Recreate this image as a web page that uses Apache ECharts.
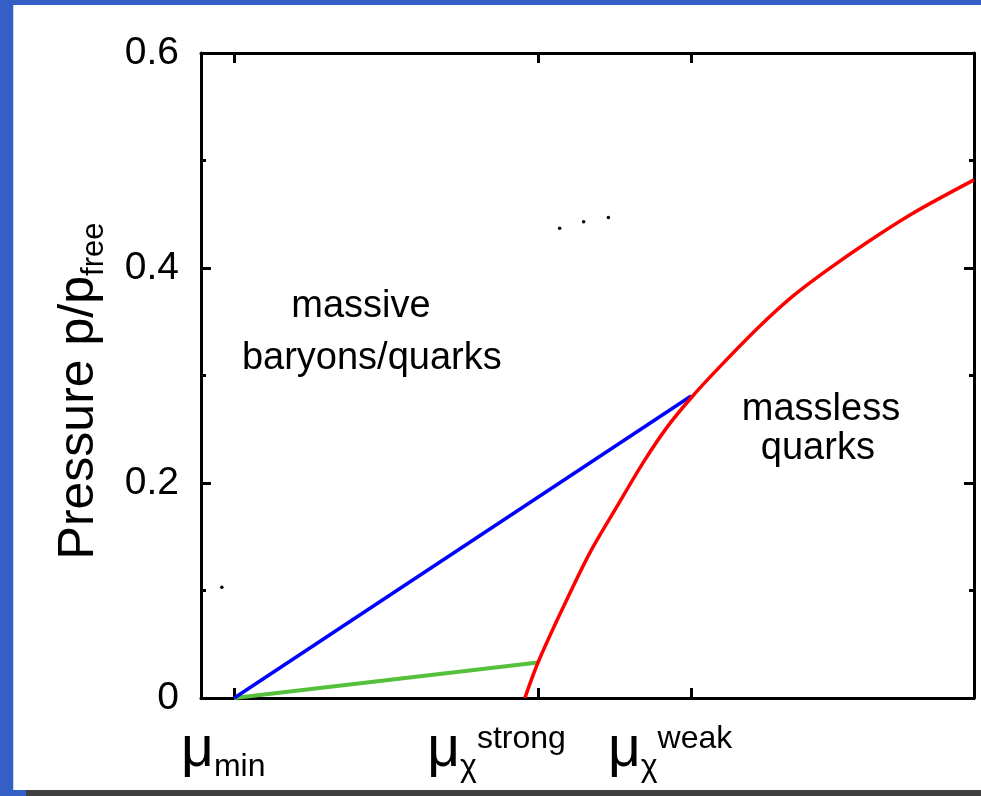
<!DOCTYPE html>
<html><head><meta charset="utf-8">
<script src="https://cdn.jsdelivr.net/npm/echarts@6/dist/echarts.min.js"></script>
<style>
html,body{margin:0;padding:0;width:981px;height:796px;overflow:hidden;background:#335fc6;}
#frame{position:absolute;left:14px;top:5px;width:967px;height:785px;background:#fff;box-shadow:-1px 0 0 #c9d6f2;}
#bar{position:absolute;left:26px;top:790px;width:955px;height:6px;background:#404040;}
#chart{position:absolute;left:0;top:0;width:967px;height:785px;}
</style></head><body>
<div id="frame"><div id="chart"></div></div><div id="bar"></div>
<script>
// ---- data ----
const xTickValues = [0.43, 4.36, 6.34];
const xTickSubs = ['min', 'χ', 'χ'];
const xTickSups = ['', 'strong', 'weak'];
const xMax = 10;
const yTickValues = [0, 0.2, 0.4, 0.6];
const yTitle = 'Pressure p/p';
const yTitleSub = 'free';

const redCurve = [
  [4.19, 0], [4.36, 0.033], [4.67, 0.082], [5.03, 0.135], [5.38, 0.178],
  [5.72, 0.219], [6.03, 0.252], [6.35, 0.280], [6.71, 0.308], [7.23, 0.346],
  [7.66, 0.374], [8.10, 0.398], [8.62, 0.424], [9.21, 0.451], [10.0, 0.482]
];
const blueLine = [[0.43, 0], [6.34, 0.281]];
const greenLine = [[0.43, 0], [4.36, 0.033]];
const dots = [[4.64, 0.437], [4.95, 0.443], [5.27, 0.447], [0.27, 0.103]];
const annoText = ['massive', 'baryons/quarks', 'massless', 'quarks'];
const annoX = [2.07, 2.21, 8.02, 7.98];
const annoY = [0.364, 0.316, 0.268, 0.232];

// ---- chart ----
const FONT = 'Liberation Sans, Arial, sans-serif';
const chart = echarts.init(document.getElementById('chart'), null, {renderer: 'canvas'});
const pads = ['p0', 'p1', 'p2'];

function xLabel(v) {
  let i = xTickValues.findIndex(t => Math.abs(t - v) < 1e-6);
  if (i < 0) return ' ';
  let s = '{mu|μ}{sub|' + xTickSubs[i] + '}';
  if (xTickSups[i]) s += '{sup|' + xTickSups[i] + '}';
  s += '{' + pads[i] + '|}';
  return s;
}

const axisLineStyle = {color: '#000', width: 3};
const tickStyle = {color: '#000', width: 3};

const option = {
  animation: false,
  textStyle: {fontFamily: FONT},
  grid: {left: 187, top: 48, width: 773, height: 645, containLabel: false},
  xAxis: [
    {
      type: 'value', min: 0, max: xMax, position: 'bottom',
      axisLine: {show: true, onZero: false, lineStyle: axisLineStyle},
      axisTick: {show: true, inside: true, length: 10, lineStyle: tickStyle, customValues: xTickValues},
      axisLabel: {
        show: true, customValues: xTickValues.concat([xMax]), margin: 22, color: '#000',
        hideOverlap: false,
        formatter: xLabel,
        rich: {
          mu: {fontSize: 57, fontFamily: FONT, color: '#000', lineHeight: 64, padding: [2, 0, 6, 0]},
          sub: {fontSize: 32, fontFamily: FONT, color: '#000', lineHeight: 64, padding: [30, 0, 0, 0]},
          sup: {fontSize: 32, fontFamily: FONT, color: '#000', lineHeight: 64, padding: [0, 0, 26, 0]},
          p0: {width: 22, lineHeight: 64},
          p1: {width: 83, lineHeight: 64},
          p2: {width: 42, lineHeight: 64}
        }
      },
      splitLine: {show: false}
    },
    {
      type: 'value', min: 0, max: xMax, position: 'top',
      axisLine: {show: true, onZero: false, lineStyle: axisLineStyle},
      axisTick: {show: true, inside: true, length: 10, lineStyle: tickStyle, customValues: xTickValues},
      axisLabel: {show: false},
      splitLine: {show: false}
    }
  ],
  yAxis: [
    {
      type: 'value', min: 0, max: 0.6, interval: 0.2, position: 'left',
      axisLine: {show: true, onZero: false, lineStyle: axisLineStyle},
      axisTick: {show: true, inside: true, length: 10, lineStyle: tickStyle},
      minorTick: {show: true, splitNumber: 2, length: 5, lineStyle: tickStyle},
      axisLabel: {show: true, fontSize: 39, color: '#000', margin: 22, fontFamily: FONT},
      splitLine: {show: false}, minorSplitLine: {show: false},
      name: yTitle + '{s|' + yTitleSub + '}{pad|}',
      nameLocation: 'middle', nameRotate: 90, nameGap: 91,
      nameTextStyle: {
        fontSize: 50, color: '#000', fontFamily: FONT, lineHeight: 62,
        rich: {
          s: {fontSize: 31, color: '#000', fontFamily: FONT, lineHeight: 25, verticalAlign: 'bottom'},
          pad: {width: 31, lineHeight: 62}
        }
      }
    },
    {
      type: 'value', min: 0, max: 0.6, interval: 0.2, position: 'right',
      axisLine: {show: true, onZero: false, lineStyle: axisLineStyle},
      axisTick: {show: true, inside: true, length: 10, lineStyle: tickStyle},
      minorTick: {show: true, splitNumber: 2, length: 5, lineStyle: tickStyle},
      axisLabel: {show: false},
      splitLine: {show: false}, minorSplitLine: {show: false}
    }
  ],
  series: [
    {
      type: 'line', data: greenLine, showSymbol: false, silent: true,
      lineStyle: {color: '#55c03c', width: 4}, z: 3
    },
    {
      type: 'line', data: blueLine, showSymbol: false, silent: true,
      lineStyle: {color: '#0000ff', width: 3.5}, z: 3
    },
    {
      type: 'line', data: redCurve, showSymbol: false, silent: true,
      smooth: 0.3,
      lineStyle: {color: '#ff0000', width: 3.5}, z: 4
    },
    {
      type: 'scatter', data: dots, symbolSize: 3.5, silent: true,
      itemStyle: {color: '#000', opacity: 1}, z: 5
    },
    {
      type: 'scatter', symbolSize: 0, silent: true, z: 6,
      itemStyle: {opacity: 1},
      data: annoText.map((t, i) => ({name: t, value: [annoX[i], annoY[i]]})),
      label: {
        show: true, position: [0, 0], align: 'center', verticalAlign: 'middle',
        formatter: '{b}', fontSize: 38, color: '#000', opacity: 1, fontFamily: FONT
      }
    }
  ]
};
chart.setOption(option);
</script>
</body></html>
